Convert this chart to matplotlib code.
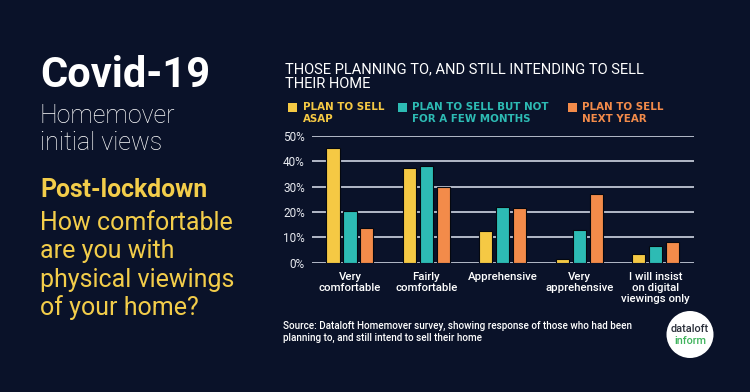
import matplotlib
matplotlib.use("Agg")
import matplotlib.pyplot as plt
from matplotlib.patches import Circle, Rectangle
import numpy as np

plt.rcParams['font.family'] = ['Roboto', 'DejaVu Sans']

categories = ["Very\ncomfortable", "Fairly\ncomfortable", "Apprehensive",
              "Very\napprehensive", "I will insist\non digital\nviewings only"]
series_names = ["PLAN TO SELL\nASAP", "PLAN TO SELL BUT NOT\nFOR A FEW MONTHS", "PLAN TO SELL\nNEXT YEAR"]
asap = [45.3, 37.1, 12.5, 1.6, 3.4]
few_months = [20.5, 38.1, 22.0, 12.7, 6.4]
next_year = [13.6, 29.9, 21.4, 26.9, 8.1]
yticks = [0, 10, 20, 30, 40, 50]
ytick_labels = ["0%", "10%", "20%", "30%", "40%", "50%"]

BG = "#0a1229"
colors = ["#f5c944", "#2dbbb4", "#f38b4a"]
W, H = 750, 392

fig = plt.figure(figsize=(7.5, 3.92), dpi=100)
fig.patch.set_facecolor(BG)

def fx(x): return x / W
def fy(y): return 1 - y / H

ax = fig.add_axes([fx(311.7), fy(262.7), (694 - 311.7) / W, (262.7 - 135.7) / H])
ax.set_facecolor(BG)
x = np.arange(len(categories))
bw = 0.172
step = 0.222
for i, (vals, c) in enumerate(zip([asap, few_months, next_year], colors)):
    ax.bar(x + (i - 1) * step, vals, width=bw, color=c, edgecolor="#05080f",
           linewidth=0.8, zorder=3)
ax.set_xlim(-0.5, 4.5)
ax.set_ylim(0, 50)
ax.set_yticks(yticks)
ax.set_yticklabels(ytick_labels, color="#e8eaf0", fontsize=8.5)
ax.set_xticks(x)
ax.set_xticklabels(categories, color="#ffffff", fontsize=8.2, linespacing=1.1,
                   fontweight="medium")
ax.tick_params(axis='both', length=0, pad=5)
ax.tick_params(axis='x', pad=7)
for s in ax.spines.values():
    s.set_visible(False)
ax.grid(axis='y', color="#c0c6d4", linewidth=1.3, zorder=1)
ax.set_axisbelow(True)

# Left text block
fig.text(fx(40), fy(87), "Covid-19", color="white", fontsize=30, fontweight="bold", va="baseline")
fig.text(fx(40), fy(123), "Homemover", color="white", fontsize=18, fontweight="light", va="baseline")
fig.text(fx(40), fy(150), "initial views", color="white", fontsize=18, fontweight="light", va="baseline")
yel = "#f3cd4a"
fig.text(fx(40), fy(197), "Post-lockdown", color=yel, fontsize=17.8, fontweight="bold", va="baseline")
for i, line in enumerate(["How comfortable", "are you with", "physical viewings", "of your home?"]):
    fig.text(fx(40), fy(230 + i * 28.4), line, color=yel, fontsize=18, va="baseline")

# Chart title
fig.text(fx(285), fy(73), "THOSE PLANNING TO, AND STILL INTENDING TO SELL", color="white",
         fontsize=10.5, va="baseline")
fig.text(fx(285), fy(88), "THEIR HOME", color="white", fontsize=10.5, va="baseline")

# Legend
leg_sq = [288, 398, 568]
leg_tx = [303, 412, 582]
for (sx, tx, name, c) in zip(leg_sq, leg_tx, series_names, colors):
    fig.patches.append(Rectangle((fx(sx), fy(112)), 9 / W, 9 / H, transform=fig.transFigure,
                                 facecolor=c, edgecolor="none"))
    fig.text(fx(tx), fy(102.5), name, color=c, fontsize=7.4, fontweight="bold",
             family="DejaVu Sans", va="top", linespacing=1.15)

# Source
fig.text(fx(283), fy(329), "Source: Dataloft Homemover survey, showing response of those who had been",
         color="white", fontsize=7.15, fontweight="medium", va="baseline")
fig.text(fx(283), fy(341), "planning to, and still intend to sell their home",
         color="white", fontsize=7.15, fontweight="medium", va="baseline")

# Logo
logo = Circle((6.90, 3.92 - 3.345), 0.235, transform=fig.dpi_scale_trans,
              facecolor="white", edgecolor="none")
fig.patches.append(logo)
fig.text(fx(690), fy(332), "dataloft", color="#2a2f3a", fontsize=7.8, fontweight="medium",
         ha="center", va="baseline")
fig.text(fx(690), fy(344), "inform", color="#3fb35c", fontsize=7.8, fontweight="medium",
         ha="center", va="baseline")

fig.savefig("out.png", dpi=100, facecolor=BG)
